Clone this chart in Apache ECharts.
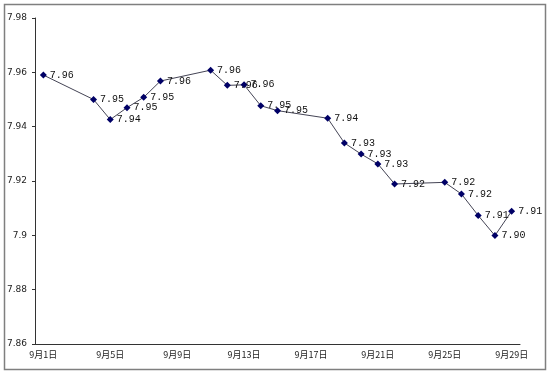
<!DOCTYPE html>
<html>
<head>
<meta charset="utf-8">
<script src="https://cdn.jsdelivr.net/npm/echarts@6/dist/echarts.min.js"></script>
<style>
  html, body { margin: 0; padding: 0; background: #fff; }
  #chart { width: 550px; height: 373px; }
</style>
</head>
<body>
<div id="chart"></div>
<script>
// days of September, weekends have no quote (null)
var categories = [];
for (var d = 1; d <= 29; d++) categories.push("9月" + d + "日");

var rates = [
  7.959, null, null, 7.950, 7.9426, 7.947, 7.9508, 7.9568, null, null,
  7.9608, 7.9552, 7.9554, 7.9477, 7.9459, null, null, 7.9431, 7.934, 7.9299,
  7.9263, 7.9189, null, null, 7.9195, 7.9152, 7.9073, 7.8999, 7.9089
];

var yMin = 7.86, yMax = 7.98, yStep = 0.02;

var chart = echarts.init(document.getElementById("chart"));
chart.setOption({
  animation: false,
  backgroundColor: "#fff",
  graphic: [
    {
      type: "rect",
      shape: { x: 4.5, y: 4.5, width: 541, height: 365 },
      style: { fill: "none", stroke: "#7f7f7f", lineWidth: 1.5 },
      silent: true
    }
  ],
  grid: {
    left: 35,
    right: 30,
    top: 18,
    bottom: 29
  },
  xAxis: {
    type: "category",
    data: categories,
    boundaryGap: true,
    axisLine: { lineStyle: { color: "#333", width: 1 } },
    axisTick: {
      interval: 3,
      alignWithLabel: false,
      length: 3,
      lineStyle: { color: "#333" }
    },
    axisLabel: {
      interval: 3,
      color: "#222",
      fontSize: 9,
      margin: 6,
      fontFamily: "Noto Sans CJK SC"
    },
    splitLine: { show: false }
  },
  yAxis: {
    type: "value",
    min: yMin,
    max: yMax,
    interval: yStep,
    axisLine: { show: true, lineStyle: { color: "#333", width: 1 } },
    axisTick: { show: true, length: 3, lineStyle: { color: "#333" } },
    axisLabel: {
      color: "#222",
      fontSize: 9,
      margin: 8,
      fontFamily: "DejaVu Sans"
    },
    splitLine: { show: false }
  },
  series: [
    {
      type: "line",
      data: rates,
      connectNulls: true,
      symbol: "diamond",
      symbolSize: 7,
      itemStyle: { color: "#000066" },
      lineStyle: { color: "#444455", width: 1 },
      label: {
        show: true,
        position: "right",
        distance: 3,
        color: "#111",
        fontSize: 10,
        fontFamily: "Liberation Mono",
        formatter: function (p) { return p.value.toFixed(2); }
      }
    }
  ]
});
</script>
</body>
</html>
